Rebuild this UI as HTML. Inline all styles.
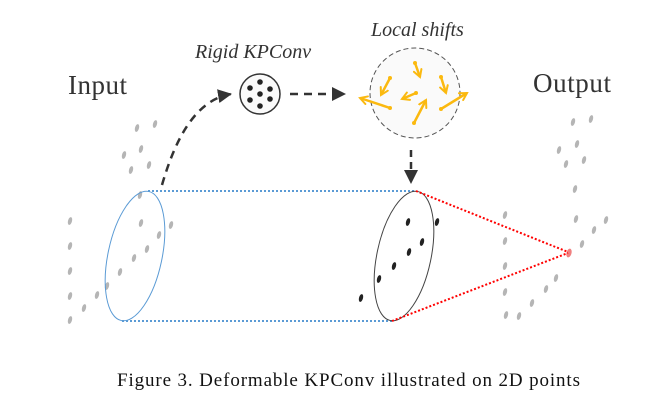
<!DOCTYPE html>
<html><head><meta charset="utf-8"><style>
html,body{margin:0;padding:0;background:#fff;}
svg{display:block;}
</style></head><body>
<svg width="652" height="405" viewBox="0 0 652 405" xmlns="http://www.w3.org/2000/svg">
<defs>
<marker id="ah2" markerWidth="14" markerHeight="14" refX="13" refY="7" orient="auto" markerUnits="userSpaceOnUse"><path d="M0,0 L14,7 L0,14 z" fill="#333"/></marker>
<marker id="ya" markerWidth="10" markerHeight="10" refX="8" refY="5" orient="auto" markerUnits="userSpaceOnUse"><path d="M1,1 L8,5 L1,9" fill="none" stroke="#fbb90f" stroke-width="2" stroke-linecap="round"/></marker>
</defs>
<g font-family="Liberation Serif, serif" fill="#333">
<text x="68" y="94" font-size="27" textLength="59">Input</text>
<text x="533" y="92" font-size="27" textLength="78">Output</text>
<text x="195" y="58" font-size="20" font-style="italic">Rigid KPConv</text>
<text x="371" y="36" font-size="20" font-style="italic">Local shifts</text>
</g>
<text x="117" y="386" font-family="Liberation Serif, serif" font-size="19" fill="#111" textLength="463">Figure 3. Deformable KPConv illustrated on 2D points</text>

<circle cx="260" cy="94" r="20" fill="#fafafa" stroke="#333" stroke-width="1.5"/>
<g fill="#222">
<circle cx="250" cy="88" r="2.8"/><circle cx="260" cy="82" r="2.8"/><circle cx="270" cy="89" r="2.8"/>
<circle cx="260" cy="94" r="2.8"/><circle cx="250" cy="100" r="2.8"/><circle cx="270" cy="99" r="2.8"/>
<circle cx="260" cy="106" r="2.8"/>
</g>
<path d="M162,185 C175,140 195,100 231,94" fill="none" stroke="#333" stroke-width="2.5" stroke-dasharray="8,6" marker-end="url(#ah2)"/>
<line x1="290" y1="94" x2="345" y2="94" stroke="#333" stroke-width="2.5" stroke-dasharray="8,6" marker-end="url(#ah2)"/>

<circle cx="415" cy="93" r="45" fill="#fafafa" stroke="#555" stroke-width="1" stroke-dasharray="5,3"/>
<g stroke="#fbb90f" stroke-width="2.5" marker-end="url(#ya)">
<line x1="415" y1="63" x2="420" y2="77"/>
<line x1="390" y1="78" x2="381" y2="95"/>
<line x1="441" y1="77" x2="446" y2="93"/>
<line x1="416" y1="93" x2="402" y2="99"/>
<line x1="390" y1="108" x2="360" y2="98"/>
<line x1="414" y1="123" x2="426" y2="100"/>
<line x1="441" y1="109" x2="467" y2="93"/>
</g>
<g fill="#fbb90f"><circle cx="415" cy="63" r="2"/><circle cx="390" cy="78" r="2"/><circle cx="441" cy="77" r="2"/><circle cx="416" cy="93" r="2"/><circle cx="390" cy="108" r="2"/><circle cx="414" cy="123" r="2"/><circle cx="441" cy="109" r="2"/></g>
<line x1="411" y1="150" x2="411" y2="183" stroke="#333" stroke-width="2.5" stroke-dasharray="7,5" marker-end="url(#ah2)"/>

<g fill="#b5b5b5">
<ellipse cx="137" cy="128" rx="2" ry="4" transform="rotate(15 137 128)"/>
<ellipse cx="155" cy="124" rx="2" ry="4" transform="rotate(15 155 124)"/>
<ellipse cx="124" cy="155" rx="2" ry="4" transform="rotate(15 124 155)"/>
<ellipse cx="141" cy="149" rx="2" ry="4" transform="rotate(15 141 149)"/>
<ellipse cx="131" cy="170" rx="2" ry="4" transform="rotate(15 131 170)"/>
<ellipse cx="149" cy="165" rx="2" ry="4" transform="rotate(15 149 165)"/>
<ellipse cx="140" cy="195" rx="2" ry="4" transform="rotate(15 140 195)"/>
<ellipse cx="141" cy="223" rx="2" ry="4" transform="rotate(15 141 223)"/>
<ellipse cx="171" cy="225" rx="2" ry="4" transform="rotate(15 171 225)"/>
<ellipse cx="159" cy="235" rx="2" ry="4" transform="rotate(15 159 235)"/>
<ellipse cx="147" cy="249" rx="2" ry="4" transform="rotate(15 147 249)"/>
<ellipse cx="134" cy="258" rx="2" ry="4" transform="rotate(15 134 258)"/>
<ellipse cx="120" cy="272" rx="2" ry="4" transform="rotate(15 120 272)"/>
<ellipse cx="107" cy="286" rx="2" ry="4" transform="rotate(15 107 286)"/>
<ellipse cx="97" cy="295" rx="2" ry="4" transform="rotate(15 97 295)"/>
<ellipse cx="84" cy="308" rx="2" ry="4" transform="rotate(15 84 308)"/>
<ellipse cx="70" cy="320" rx="2" ry="4" transform="rotate(15 70 320)"/>
<ellipse cx="70" cy="221" rx="2" ry="4" transform="rotate(15 70 221)"/>
<ellipse cx="70" cy="246" rx="2" ry="4" transform="rotate(15 70 246)"/>
<ellipse cx="70" cy="271" rx="2" ry="4" transform="rotate(15 70 271)"/>
<ellipse cx="70" cy="296" rx="2" ry="4" transform="rotate(15 70 296)"/>
</g>
<g fill="#b5b5b5">
<ellipse cx="573" cy="122" rx="2" ry="4" transform="rotate(15 573 122)"/>
<ellipse cx="591" cy="119" rx="2" ry="4" transform="rotate(15 591 119)"/>
<ellipse cx="559" cy="150" rx="2" ry="4" transform="rotate(15 559 150)"/>
<ellipse cx="577" cy="144" rx="2" ry="4" transform="rotate(15 577 144)"/>
<ellipse cx="566" cy="164" rx="2" ry="4" transform="rotate(15 566 164)"/>
<ellipse cx="584" cy="160" rx="2" ry="4" transform="rotate(15 584 160)"/>
<ellipse cx="575" cy="189" rx="2" ry="4" transform="rotate(15 575 189)"/>
<ellipse cx="576" cy="219" rx="2" ry="4" transform="rotate(15 576 219)"/>
<ellipse cx="606" cy="220" rx="2" ry="4" transform="rotate(15 606 220)"/>
<ellipse cx="594" cy="230" rx="2" ry="4" transform="rotate(15 594 230)"/>
<ellipse cx="582" cy="244" rx="2" ry="4" transform="rotate(15 582 244)"/>
<ellipse cx="556" cy="278" rx="2" ry="4" transform="rotate(15 556 278)"/>
<ellipse cx="546" cy="289" rx="2" ry="4" transform="rotate(15 546 289)"/>
<ellipse cx="532" cy="303" rx="2" ry="4" transform="rotate(15 532 303)"/>
<ellipse cx="519" cy="316" rx="2" ry="4" transform="rotate(15 519 316)"/>
<ellipse cx="505" cy="215" rx="2" ry="4" transform="rotate(15 505 215)"/>
<ellipse cx="505" cy="241" rx="2" ry="4" transform="rotate(15 505 241)"/>
<ellipse cx="505" cy="266" rx="2" ry="4" transform="rotate(15 505 266)"/>
<ellipse cx="505" cy="292" rx="2" ry="4" transform="rotate(15 505 292)"/>
<ellipse cx="506" cy="315" rx="2" ry="4" transform="rotate(15 506 315)"/>
</g>
<ellipse cx="569" cy="253" rx="2.5" ry="4.5" fill="#f08080" transform="rotate(15 569 253)"/>

<ellipse cx="135" cy="256" rx="27" ry="66" fill="none" stroke="#5b9bd5" stroke-width="1" transform="rotate(12 135 256)"/>
<line x1="148" y1="191" x2="416" y2="191" stroke="#5b9bd5" stroke-width="2" stroke-dasharray="2,2"/>
<line x1="122" y1="321" x2="392" y2="321" stroke="#5b9bd5" stroke-width="2" stroke-dasharray="2,2"/>
<ellipse cx="404" cy="256" rx="27" ry="66" fill="none" stroke="#444" stroke-width="1" transform="rotate(12 404 256)"/>
<line x1="416" y1="191" x2="568" y2="252" stroke="#f00" stroke-width="2" stroke-dasharray="2,2"/>
<line x1="392" y1="321" x2="568" y2="253" stroke="#f00" stroke-width="2" stroke-dasharray="2,2"/>

<g fill="#222">
<ellipse cx="408" cy="222" rx="2" ry="4" transform="rotate(15 408 222)"/>
<ellipse cx="437" cy="222" rx="2" ry="4" transform="rotate(15 437 222)"/>
<ellipse cx="422" cy="242" rx="2" ry="4" transform="rotate(15 422 242)"/>
<ellipse cx="409" cy="252" rx="2" ry="4" transform="rotate(15 409 252)"/>
<ellipse cx="394" cy="266" rx="2" ry="4" transform="rotate(15 394 266)"/>
<ellipse cx="379" cy="279" rx="2" ry="4" transform="rotate(15 379 279)"/>
<ellipse cx="361" cy="298" rx="2" ry="4" transform="rotate(15 361 298)"/>
</g>
</svg>
</body></html>
